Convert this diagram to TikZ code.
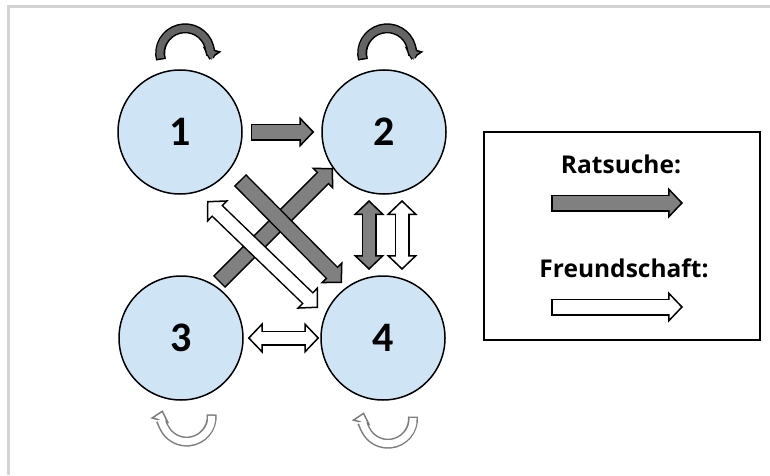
\documentclass[tikz,border=0pt]{standalone}
\usepackage{fontspec}
\setmainfont{Open Sans}
\newfontfamily\numfont{Carlito}
\usetikzlibrary{arrows.meta,calc}

\definecolor{nodeblue}{RGB}{207,229,246}
\definecolor{ratgray}{RGB}{128,128,128}
\definecolor{loopgray}{RGB}{100,100,100}
\definecolor{rimgray}{RGB}{125,125,125}
\definecolor{framegray}{RGB}{211,211,211}

\begin{document}
\begin{tikzpicture}[x=1pt, y=1pt,
        person/.style={circle, draw, line width=1.5pt, fill=nodeblue, minimum size=124pt, inner sep=0pt, font=\numfont\fontsize{42}{46}\selectfont\bfseries},
        legendtext/.style={font=\fontsize{24.5}{28}\selectfont\bfseries, inner sep=0pt},
        ratHead/.tip={Triangle[length=15pt, width=31pt, line width=1.5pt, fill=ratgray]},
        freundHead/.tip={Triangle[length=15pt, width=31pt, line width=1.5pt, fill=white]},
        darkLoopHead/.tip={Triangle[length=11pt, width=19pt, line width=1.5pt, fill=loopgray]},
        lightLoopHead/.tip={Triangle[length=11pt, width=19pt, line width=1.5pt, fill=white]},
        rat/.style={line width=#1+3pt, -ratHead, postaction={draw=ratgray, line width=#1, arrows=-, shorten >=13pt, shorten <=1.5pt}},
        rat/.default=14pt,
        ratboth/.style={line width=#1+3pt, ratHead-ratHead, postaction={draw=ratgray, line width=#1, arrows=-, shorten >=13pt, shorten <=13pt}},
        ratboth/.default=12pt,
        freund/.style={line width=#1+3pt, -freundHead, postaction={draw=white, line width=#1, arrows=-, shorten >=13pt, shorten <=1.5pt}},
        freund/.default=14pt,
        freundboth/.style={line width=#1+3pt, freundHead-freundHead, postaction={draw=white, line width=#1, arrows=-, shorten >=13pt, shorten <=13pt}},
        freundboth/.default=12pt,
        selfrat/.style={line width=10pt, -darkLoopHead, postaction={draw=loopgray, line width=7pt, arrows=-, shorten >=9pt, shorten <=1.5pt}},
        selffreund/.style={draw=rimgray, line width=10pt, -lightLoopHead, postaction={draw=white, line width=7pt, arrows=-, shorten >=9pt, shorten <=1.5pt}}
    ]
    \useasboundingbox (0,0) rectangle (770,475);
    \draw[framegray, line width=3pt] (8,0) -- (8,468) -- (770,468);

    % the four persons
    \node[person] (n1) at (180,343) {1};
    \node[person] (n2) at (384,343) {2};
    \node[person] (n3) at (181,137) {3};
    \node[person] (n4) at (383,137) {4};

    % self loops
    \draw[selfrat] ($(n1.north)+(-19,9.5)$) arc[start angle=195, end angle=-15, radius=25];
    \draw[selfrat] ($(n2.north)+(-21,9.5)$) arc[start angle=195, end angle=-15, radius=25];
    \draw[selffreund] ($(n3.south)+(30.6,-13.7)$) arc[start angle=5, end angle=-195, radius=25];
    \draw[selffreund] ($(n4.south)+(29.9,-15.8)$) arc[start angle=5, end angle=-195, radius=25];

    % Ratsuche
    \draw[rat] ($(n1.east)+(8,0)$) -- ($(n2.west)+(-7,0)$);
    \draw[rat] ($(n3)+(38,56)$) -- ($(n2)+(-51,-36)$);
    \draw[rat] ($(n1)+(60,-48)$) -- ($(n4)+(-41,55)$);
    \draw[ratboth] ($(n2)+(-15,-68)$) -- ($(n4)+(-14,68)$);

    % Freundschaft
    \draw[freundboth=13pt] ($(n1)+(27,-69)$) -- ($(n4)+(-65,30)$);
    \draw[freundboth] ($(n2)+(18,-68)$) -- ($(n4)+(19,68)$);
    \draw[freundboth] ($(n3.east)+(4,0)$) -- ($(n4.west)+(-1,0)$);

    % legend
    \node[draw, line width=1.8pt, minimum width=276pt, minimum height=208pt] (legend) at (622,239) {};
    \node[legendtext] (lrat) at (621,311) {Ratsuche:};
    \node[legendtext] (lfreund) at (624,207) {Freundschaft:};
    \coordinate (r0) at (551,272);
    \coordinate (r1) at (683,272);
    \coordinate (f0) at (551,168);
    \coordinate (f1) at (683,168);
    \draw[rat] (r0) -- (r1);
    \draw[freund] (f0) -- (f1);
\end{tikzpicture}
\end{document}
